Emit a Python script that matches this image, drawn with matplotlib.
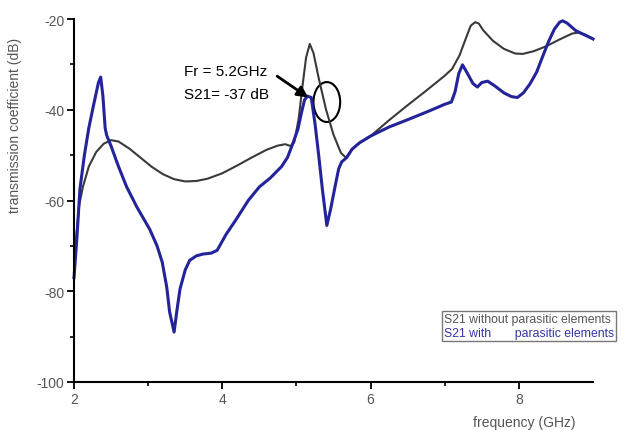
import matplotlib
matplotlib.use('Agg')
import matplotlib.pyplot as plt
from matplotlib.patches import Ellipse

plt.rcParams['font.family'] = ['Liberation Sans', 'DejaVu Sans']
plt.rcParams['axes.unicode_minus'] = False

# S21 without parasitic elements (black curve)
freq_without = [2.00, 2.03, 2.07, 2.12, 2.20, 2.30, 2.40, 2.50, 2.60, 2.75,
                2.90, 3.05, 3.20, 3.35, 3.50, 3.65, 3.80, 4.00, 4.20, 4.40,
                4.60, 4.75, 4.85, 4.92, 4.97, 5.03, 5.08, 5.13, 5.18, 5.23,
                5.30, 5.40, 5.50, 5.60, 5.67, 5.75, 5.85, 6.00, 6.25, 6.50,
                6.75, 7.00, 7.10, 7.20, 7.28, 7.35, 7.41, 7.46, 7.52, 7.65,
                7.80, 7.95, 8.05, 8.20, 8.37, 8.55, 8.72, 8.80, 8.90, 9.00]
s21_without = [-77.0, -68.0, -61.0, -57.0, -52.5, -49.3, -47.5, -46.7, -47.0, -48.6,
               -50.6, -52.6, -54.2, -55.3, -55.8, -55.7, -55.2, -54.0, -52.3, -50.5,
               -48.8, -47.9, -47.6, -48.0, -47.2, -42.0, -35.0, -28.5, -25.5, -27.5,
               -33.0, -40.0, -45.5, -49.5, -50.6, -48.7, -47.3, -45.8, -42.3, -39.0,
               -35.8, -32.5, -31.0, -28.0, -24.5, -21.5, -20.7, -21.0, -22.5, -24.8,
               -26.6, -27.6, -27.7, -27.1, -26.0, -24.5, -23.2, -23.0, -23.5, -24.4]

# S21 with parasitic elements (blue curve)
freq_with = [2.00, 2.04, 2.08, 2.14, 2.20, 2.27, 2.33, 2.36, 2.39, 2.42,
             2.44, 2.50, 2.60, 2.71, 2.85, 3.02, 3.12, 3.19, 3.25, 3.29,
             3.35, 3.39, 3.43, 3.50, 3.56, 3.65, 3.74, 3.85, 3.93, 4.05,
             4.19, 4.35, 4.50, 4.65, 4.80, 4.88, 4.95, 5.02, 5.07, 5.11,
             5.15, 5.20, 5.25, 5.30, 5.35, 5.41, 5.46, 5.52, 5.57, 5.61,
             5.68, 5.75, 5.85, 6.00, 6.25, 6.53, 6.80, 7.00, 7.09, 7.14,
             7.19, 7.24, 7.30, 7.38, 7.44, 7.50, 7.58, 7.68, 7.80, 7.90,
             7.98, 8.06, 8.15, 8.24, 8.32, 8.40, 8.48, 8.55, 8.59, 8.65,
             8.77, 8.90, 9.00]
s21_with = [-77.0, -68.0, -57.5, -50.0, -44.0, -38.5, -34.0, -32.8, -37.0, -44.0,
            -45.6, -48.0, -52.5, -57.0, -61.5, -66.3, -70.0, -73.6, -79.0, -84.6,
            -89.0, -84.0, -79.5, -75.3, -73.2, -72.2, -71.8, -71.6, -71.0, -67.5,
            -64.1, -60.0, -57.0, -55.0, -52.5, -50.5, -47.5, -44.3, -40.5, -37.8,
            -37.0, -37.3, -43.0, -50.0, -57.5, -65.5, -62.0, -57.0, -53.0, -51.5,
            -50.5, -48.7, -47.3, -45.8, -43.8, -42.0, -40.2, -38.8, -38.3, -36.0,
            -32.0, -30.1, -31.8, -34.2, -35.0, -34.0, -33.7, -34.8, -36.3, -37.1,
            -37.3, -36.3, -34.3, -31.7, -28.3, -25.0, -22.2, -20.7, -20.4, -20.9,
            -22.6, -23.6, -24.4]

x_ticks = [2, 4, 6, 8]
y_ticks = [-100, -80, -60, -40, -20]

fig = plt.figure(figsize=(6.24, 4.31), dpi=100)
ax = fig.add_axes([74 / 624, 1 - 383 / 431, (593 - 74) / 624, (383 - 20) / 431])

l1, = ax.plot(freq_without, s21_without, color='#3a3a3a', lw=1.5, clip_on=False)
l2, = ax.plot(freq_with, s21_with, color='#23239a', lw=2.2, clip_on=False)

ax.set_xlim(2, 9)
ax.set_ylim(-100, -20)
ax.set_xticks(x_ticks)
ax.set_yticks(y_ticks)
ax.set_xticks([3, 5, 7], minor=True)
ax.set_yticks([-90, -70, -50, -30], minor=True)
ax.tick_params(which='major', direction='out', length=5, width=1.3,
               labelsize=10, labelcolor='#555555', pad=2)
ax.tick_params(which='minor', direction='out', length=3, width=1.2)

for side in ['top', 'right']:
    ax.spines[side].set_visible(False)
for side in ['left', 'bottom']:
    ax.spines[side].set_linewidth(1.5)

ax.set_ylabel('transmission coefficient (dB)', fontsize=10, color='#555555')
ax.yaxis.set_label_coords(-0.10, 0.71)
ax.set_xlabel('frequency (GHz)', fontsize=10, color='#555555')
ax.xaxis.set_label_coords(0.868, -0.09)

# annotation of the resonance
ax.text(3.49, -31.5, 'Fr = 5.2GHz', fontsize=11, va='center', ha='left')
ax.text(3.49, -36.6, 'S21= -37 dB', fontsize=11, va='center', ha='left')
ax.annotate('', xy=(5.16, -37.3), xytext=(4.74, -32.6),
            arrowprops=dict(arrowstyle='-|>', lw=2, color='black',
                            mutation_scale=16, shrinkA=0, shrinkB=0))
ax.add_patch(Ellipse((5.41, -38.3), width=0.36, height=8.8, fill=False,
                     lw=1.5, ec='black'))

leg = ax.legend([l1, l2],
                ['S21 without parasitic elements',
                 'S21 with       parasitic elements'],
                handlelength=0, handletextpad=0, fontsize=8.8,
                labelcolor=['#555555', '#3434a8'],
                loc='upper left', bbox_to_anchor=(442 / 624, 1 - 312 / 431),
                bbox_transform=fig.transFigure, frameon=True, fancybox=False,
                borderpad=0.15, labelspacing=0.2, borderaxespad=0)
leg.get_frame().set_edgecolor('#555555')
leg.get_frame().set_linewidth(1.0)
for h in leg.legend_handles:
    h.set_visible(False)

fig.savefig('out.png', dpi=100)
